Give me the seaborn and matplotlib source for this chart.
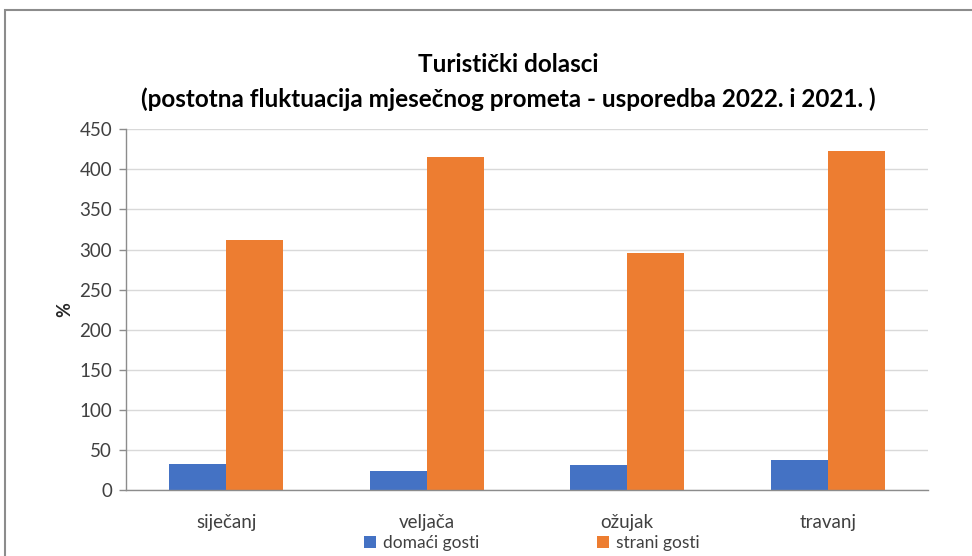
import matplotlib
matplotlib.use("Agg")
import matplotlib.pyplot as plt
import seaborn as sns
import pandas as pd
from matplotlib.patches import Rectangle

months = ["siječanj", "veljača", "ožujak", "travanj"]
domaci = [32.5, 23.5, 31.5, 37.0]
strani = [312, 416, 295.5, 423.5]
series_names = ["domaći gosti", "strani gosti"]
yticks = [0, 50, 100, 150, 200, 250, 300, 350, 400, 450]
title_line1 = "Turistički dolasci"
title_line2 = "(postotna fluktuacija mjesečnog prometa - usporedba 2022. i 2021. )"

df = pd.DataFrame({
    "mjesec": months * 2,
    "vrijednost": domaci + strani,
    "serija": [series_names[0]] * len(months) + [series_names[1]] * len(months),
})

sns.set_theme(style="white")
plt.rcParams["font.family"] = ["Lato", "DejaVu Sans"]

fig = plt.figure(figsize=(9.72, 5.56), dpi=100)
ax = fig.add_axes([126 / 972, 1 - 490 / 556, (928 - 126) / 972, (490 - 129.3) / 556])

sns.barplot(data=df, x="mjesec", y="vrijednost", hue="serija",
            palette=["#4472C4", "#ED7D31"], width=0.57, gap=0,
            saturation=1, ax=ax, legend=True, linewidth=0)

ax.set_ylim(0, 450)
ax.set_xlim(-0.5, 3.5)
ax.set_yticks(yticks)
ax.set_yticklabels([str(t) for t in yticks])
ax.yaxis.grid(True, color="#D9D9D9", linewidth=1)
ax.set_axisbelow(True)
for s in ["top", "right"]:
    ax.spines[s].set_visible(False)
ax.spines["left"].set_color("#8C8C8C")
ax.spines["bottom"].set_color("#8C8C8C")
ax.spines["left"].set_linewidth(1)
ax.spines["bottom"].set_linewidth(1)
ax.tick_params(axis="y", left=True, length=5, width=1, color="#8C8C8C",
               labelsize=13.5, labelcolor="#404040", pad=5)
ax.tick_params(axis="x", bottom=False, labelsize=13.5, labelcolor="#404040", pad=11)
ax.set_xlabel("")
ax.set_ylabel("%", fontsize=13, fontweight="bold", color="#262626", labelpad=4)

handles, labels = ax.get_legend_handles_labels()
ax.get_legend().remove()
fig.legend(handles, labels, loc="center", bbox_to_anchor=(532 / 972, 1 - 543 / 556),
           ncol=2, frameon=False, fontsize=12.5, handlelength=0.7, handleheight=0.7,
           handletextpad=0.4, columnspacing=6.8, labelcolor="#404040")

fig.text(508 / 972, 1 - 65 / 556, title_line1, ha="center", va="center",
         fontsize=17.5, fontweight="bold", color="#000000")
fig.text(508 / 972, 1 - 99 / 556, title_line2, ha="center", va="center",
         fontsize=17.5, fontweight="bold", color="#000000")

frame = Rectangle((5 / 972, -0.1), 1.2, 1 - 10 / 556 + 0.1, transform=fig.transFigure,
                  fill=False, edgecolor="#8C8C8C", linewidth=1.5)
fig.patches.append(frame)

fig.savefig("out.png", dpi=100)
